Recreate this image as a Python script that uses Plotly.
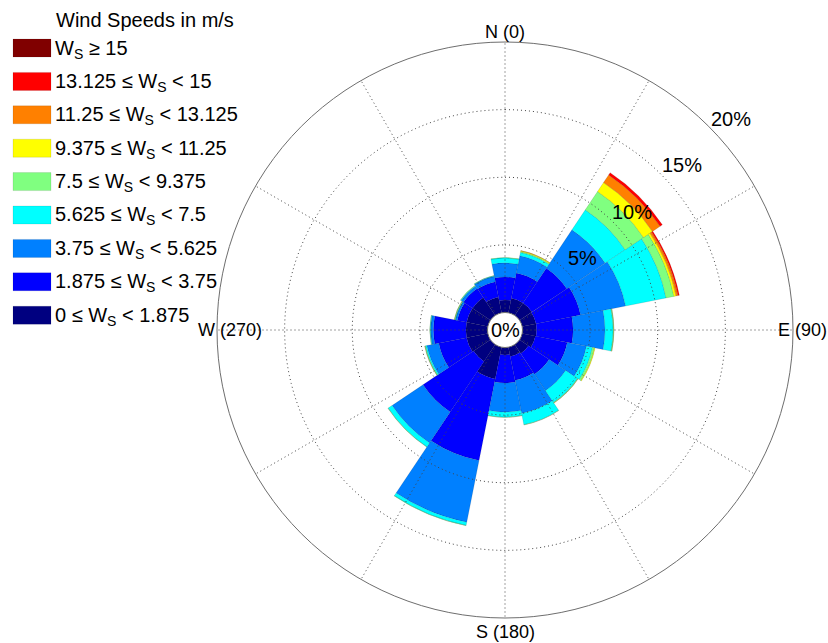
import math
import plotly.graph_objects as go

# ---------------- data ----------------
directions = [0, 22.5, 45, 67.5, 90, 112.5, 135, 157.5,
              180, 202.5, 225, 247.5, 270, 292.5, 315, 337.5]

speed_edges = [0, 1.875, 3.75, 5.625, 7.5, 9.375, 11.25, 13.125, 15]

# frequency (%) per direction for each wind-speed bin
freq_0_1875 = [0.93, 1.10, 1.10, 1.05, 1.05, 1.00, 0.80, 0.70,
               0.56, 2.40, 1.50, 1.60, 1.60, 1.60, 1.60, 1.20]
freq_1875_375 = [1.70, 1.90, 3.10, 3.35, 2.69, 2.40, 1.83, 1.80,
                 2.07, 6.15, 4.50, 2.10, 2.40, 0.70, 0.80, 1.15]
freq_375_5625 = [1.04, 1.30, 3.41, 3.40, 2.36, 1.45, 1.47, 2.50,
                 2.15, 4.65, 2.75, 0.90, 0.20, 0.15, 0.20, 0.40]
freq_5625_75 = [0.37, 0.25, 1.78, 3.05, 0.60, 0.45, 1.05, 0.85,
                0.37, 0.24, 0.35, 0.10, 0.05, 0.03, 0.05, 0.05]
freq_75_9375 = [0.03, 0.07, 1.63, 0.59, 0.05, 0.15, 0.05, 0.02,
                0.02, 0.02, 0.02, 0.05, 0.02, 0.05, 0.03, 0.01]
freq_9375_1125 = [0.00, 0.06, 0.80, 0.16, 0.01, 0.05, 0.01, 0.00,
                  0.00, 0.00, 0.00, 0.01, 0.00, 0.01, 0.00, 0.00]
freq_1125_13125 = [0.00, 0.01, 0.68, 0.15, 0.00, 0.00, 0.00, 0.00,
                   0.00, 0.00, 0.00, 0.00, 0.00, 0.00, 0.00, 0.00]
freq_13125_15 = [0.00, 0.00, 0.20, 0.10, 0.00, 0.00, 0.00, 0.00,
                 0.00, 0.00, 0.00, 0.00, 0.00, 0.00, 0.00, 0.00]
freq_15_up = [0.00, 0.00, 0.00, 0.00, 0.00, 0.00, 0.00, 0.00,
              0.00, 0.00, 0.00, 0.00, 0.00, 0.00, 0.00, 0.00]

ring_ticks = [5, 10, 15, 20]
ring_labels = ["5%", "10%", "15%", "20%"]
spoke_angles = [0, 30, 60, 90, 120, 150, 180, 210, 240, 270, 300, 330]
compass_angles = [0, 90, 180, 270]
compass_labels = ["N (0)", "E (90)", "S (180)", "W (270)"]
legend_title = "Wind Speeds in m/s"

# ---------------- styles / geometry ----------------
bin_colors = ["#000080", "#0000FF", "#0080FF", "#00FFFF", "#80FF80",
              "#FFFF00", "#FF8000", "#FF0000", "#800000"]
FONT = "Liberation Sans, Arial, Helvetica, sans-serif"
W, H = 828, 643
cx, cy, R = 505, 330, 288          # polar centre and outer radius, px
hole_px = 17.5
r_max = ring_ticks[-1]
px_per_unit = (R - hole_px) / r_max
dom_x = [(cx - R) / W, (cx + R) / W]
dom_y = [1 - (cy + R) / H, 1 - (cy - R) / H]
ring_label_angle = 47
ring_label_offset = 1.55
compass_label_radius = [20.74, 20.67, 21.03, 19.04]


def to_paper(r, theta):
    d = hole_px + r * px_per_unit
    t = math.radians(theta)
    return (cx + d * math.sin(t)) / W, 1 - (cy - d * math.cos(t)) / H


series = [freq_0_1875, freq_1875_375, freq_375_5625, freq_5625_75,
          freq_75_9375, freq_9375_1125, freq_1125_13125, freq_13125_15,
          freq_15_up]


def fmt(v):
    return "%g" % v


labels = []
for i in range(len(speed_edges)):
    if i < len(speed_edges) - 1:
        labels.append("%s ≤ W<sub>S</sub> &lt; %s" % (fmt(speed_edges[i]), fmt(speed_edges[i + 1])))
    else:
        labels.append("W<sub>S</sub> ≥ %s" % fmt(speed_edges[i]))

fig = go.Figure()

for vals, col, name in zip(series, bin_colors, labels):
    fig.add_trace(go.Barpolar(
        r=vals, theta=directions, width=[22.5] * len(directions),
        name=name, marker=dict(color=col, line=dict(color="rgba(0,0,0,0.22)", width=0.5)),
        showlegend=False))

# dotted grid drawn above the bars
gr, gt = [], []
for rt in ring_ticks[:-1]:
    for a in range(0, 361, 2):
        gr.append(rt)
        gt.append(a)
    gr.append(None)
    gt.append(None)
for a in spoke_angles:
    gr += [0, r_max, None]
    gt += [a, a, None]
fig.add_trace(go.Scatterpolar(r=gr, theta=gt, mode="lines", connectgaps=False,
                              line=dict(color="#444444", width=1, dash="1px,3px"),
                              hoverinfo="skip", showlegend=False))

annotations = []
# centre label
annotations.append(dict(text="0%", x=(dom_x[0] + dom_x[1]) / 2, y=(dom_y[0] + dom_y[1]) / 2,
                        xref="paper", yref="paper", showarrow=False,
                        font=dict(family=FONT, size=20, color="black")))
# ring labels
for t, lab in zip(ring_ticks, ring_labels):
    x, y = to_paper(t + ring_label_offset, ring_label_angle)
    annotations.append(dict(text=lab, x=x, y=y, xref="paper", yref="paper", showarrow=False,
                            xanchor="center", yanchor="middle",
                            font=dict(family=FONT, size=20, color="black")))
# compass labels
for a, lab, rr in zip(compass_angles, compass_labels, compass_label_radius):
    x, y = to_paper(rr, a)
    annotations.append(dict(text=lab, x=x, y=y, xref="paper", yref="paper", showarrow=False,
                            xanchor="center", yanchor="middle",
                            font=dict(family=FONT, size=18, color="black")))

shapes = []
# manual legend (top entry = highest bin)
annotations.append(dict(text=legend_title, x=54 / W, y=1 - 20 / H, xref="paper", yref="paper",
                        xanchor="left", yanchor="middle", showarrow=False,
                        font=dict(family=FONT, size=20, color="black")))
for k, idx in enumerate(range(len(labels) - 1, -1, -1)):
    yc = 48 + 33.4 * k
    shapes.append(dict(type="rect", xref="paper", yref="paper",
                       x0=13 / W, x1=51 / W, y0=1 - (yc + 9) / H, y1=1 - (yc - 9) / H,
                       fillcolor=bin_colors[idx], line=dict(color="rgba(0,0,0,0.2)", width=0.5)))
    annotations.append(dict(text=labels[idx], x=53 / W, y=1 - (yc + 1) / H,
                            xref="paper", yref="paper", xanchor="left", yanchor="middle",
                            showarrow=False, font=dict(family=FONT, size=20, color="black")))

fig.update_layout(
    width=W, height=H, margin=dict(l=0, r=0, t=0, b=0),
    paper_bgcolor="white", plot_bgcolor="white",
    polar=dict(
        domain=dict(x=dom_x, y=dom_y),
        hole=hole_px / R,
        bgcolor="white",
        barmode="stack",
        radialaxis=dict(range=[0, r_max], showgrid=False, showticklabels=False,
                        showline=False, ticks=""),
        angularaxis=dict(rotation=90, direction="clockwise", showgrid=False,
                         showticklabels=False, ticks="", showline=True,
                         linecolor="#6e6e6e", linewidth=1),
    ),
    annotations=annotations, shapes=shapes, showlegend=False,
)

fig.write_html("out.html", config={"displayModeBar": False},
               post_script="document.body.style.margin='0px';document.body.style.padding='0px';")
